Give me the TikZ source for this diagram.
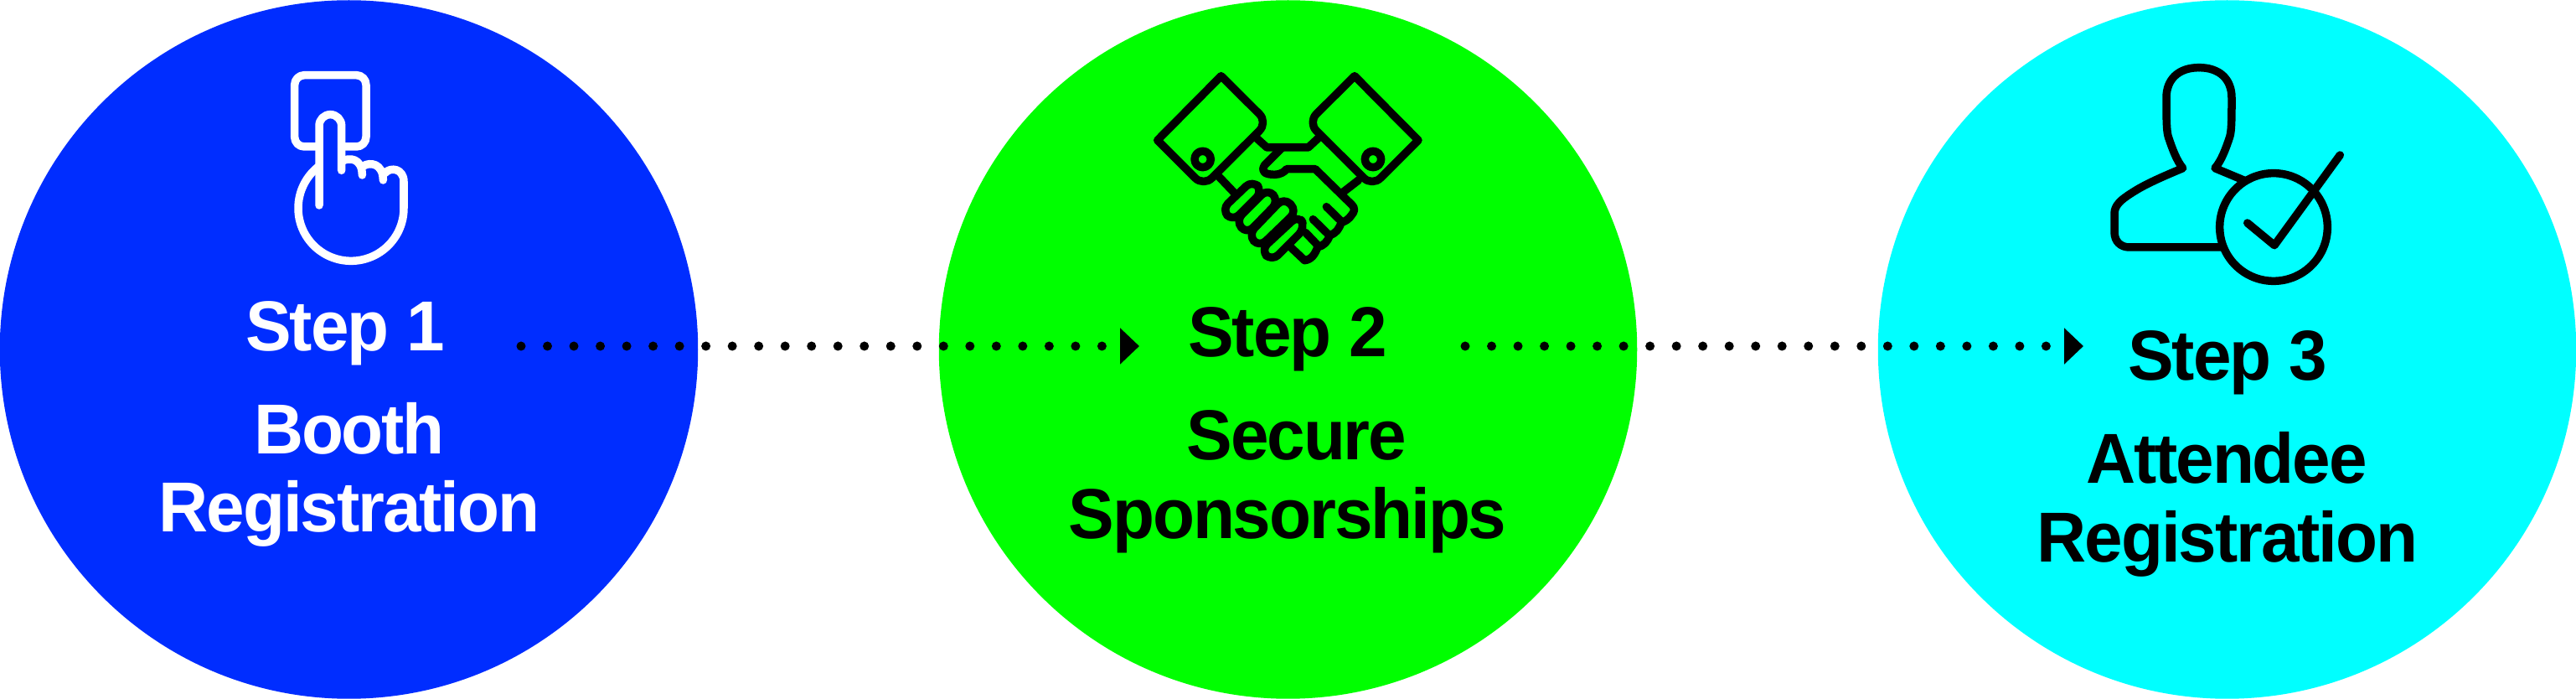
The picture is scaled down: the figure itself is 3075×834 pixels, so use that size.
\documentclass[tikz,border=0pt]{standalone}
\usepackage{fontspec}
\setmainfont{Liberation Sans}[FakeStretch=0.97, LetterSpace=-2.5]
\usetikzlibrary{arrows.meta}

\definecolor{stepblue}{RGB}{0,45,255}
\definecolor{stepgreen}{RGB}{0,255,0}
\definecolor{stepcyan}{RGB}{0,255,255}

\tikzset{
    stepdisc/.style = {circle, minimum size = 8.33cm, inner sep = 0pt, outer sep = 0pt},
    steptext/.style = {anchor = base, inner sep = 0pt, font = \fontsize{24}{26}\selectfont\bfseries},
    dotline/.style = {line width = 0.11cm, line cap = round, dash pattern = on 0pt off 0.315cm,
        -{Triangle[length = 0.23cm, width = 0.42cm]}},
    iconline/.style = {line width = 0.095cm, line cap = round, line join = round}
}

\begin{document}
\begin{tikzpicture}[x = 0.01cm, y = -0.01cm]
    \useasboundingbox (0,0) rectangle (3075,834);

    \node [stepdisc, fill = stepblue] (disc1) at (416.5,417) {};
    \node [stepdisc, fill = stepgreen] (disc2) at (1537.5,417) {};
    \node [stepdisc, fill = stepcyan] (disc3) at (2658.5,417) {};

    \coordinate (dots1) at (622,413);
    \coordinate (tip1) at (1360,413);
    \coordinate (dots2) at (1749,413);
    \coordinate (tip2) at (2487,413);
    \draw [dotline] (dots1) -- (tip1);
    \draw [dotline] (dots2) -- (tip2);

    \node [steptext, text = white] (step1) at (412,419) {Step 1};
    \node [steptext, text = white] (booth) at (417,542) {Booth};
    \node [steptext, text = white] (registration1) at (417,635) {Registration};

    \node [steptext] (step2) at (1537,426) {Step 2};
    \node [steptext] (secure) at (1548,549) {Secure};
    \node [steptext] (sponsorships) at (1537,643) {Sponsorships};

    \node [steptext] (step3) at (2659,454) {Step 3};
    \node [steptext] (attendee) at (2658,577) {Attendee};
    \node [steptext] (registration3) at (2659,671) {Registration};

    % pointing hand
    \begin{scope}[shift = {(300,60)}, scale = 1/3, iconline, white]
        \draw (243,345) [rounded corners = 3.3pt] -- (155,345) -- (155,89) -- (411,89) -- (411,345) -- (323,345);
        \draw (243,555) -- (243,270) arc (180:360:40) -- (323,430);
        \draw (323,398) .. controls (350,382) and (397,385) .. (397,447);
        \draw (400,415) .. controls (425,398) and (472,405) .. (472,465);
        \draw (478,440) .. controls (500,415) and (546,425) .. (546,470) -- (546,565) arc (0:233:189);
    \end{scope}

    % handshake
    \begin{scope}[shift = {(1350,60)}, scale = 1/3, iconline, black]
        \draw (323,92) -- (95,322) [rounded corners = 4pt] -- (260,487) -- (490,258) [sharp corners] -- cycle;
        \draw (801,92) -- (1029,322) [rounded corners = 4pt] -- (864,487) -- (634,258) [sharp corners] -- cycle;
        \draw (257,390) circle [radius = 29];
        \draw (867,390) circle [radius = 29];
        \draw (445,310) -- (487,348) -- (635,348) -- (678,308);
        \draw (310,447) -- (370,510);
        \draw (815,465) -- (757,510);
        \draw (540,350) -- (478,412) .. controls (465,435) and (480,445) .. (515,445) .. controls (535,445) and (550,435) .. (558,425) -- (660,425) -- (790,552) .. controls (805,567) and (800,578) .. (790,590) .. controls (780,605) and (768,612) .. (753,617);
        \draw (700,560) -- (753,612);
        \draw (753,617) .. controls (745,640) and (735,655) .. (712,662);
        \draw (652,605) -- (708,660);
        \draw (712,662) .. controls (705,685) and (690,700) .. (668,705);
        \draw (625,652) -- (668,697);
        \draw (668,705) .. controls (660,730) and (645,750) .. (622,752) -- (570,703);
        \begin{scope}[rounded corners = 3pt]
            \draw (435,465) -- (325,570) -- (365,612) -- (472,505) -- cycle;
            \draw (490,495) -- (375,610) -- (415,658) -- (530,540) -- cycle;
            \draw (548,527) -- (420,660) -- (460,705) -- (595,575) -- cycle;
            \draw (600,590) -- (465,715) -- (505,755) -- (625,635) -- cycle;
        \end{scope}
    \end{scope}

    % person with tick
    \begin{scope}[shift = {(2490,60)}, scale = 1/3, iconline, black]
        \draw (405,62) .. controls (330,62) and (288,105) .. (288,170) .. controls (288,230) and (288,290) .. (295,310) .. controls (310,355) and (325,395) .. (347,422) .. controls (280,450) and (210,480) .. (165,510) .. controls (125,535) and (102,555) .. (102,585) -- (102,650) .. controls (102,685) and (125,705) .. (155,705) -- (482,705);
        \draw (405,62) .. controls (480,62) and (522,105) .. (522,170) .. controls (522,230) and (522,290) .. (515,310) .. controls (500,355) and (485,395) .. (462,422) -- (565,465);
        \draw (672,633) circle [radius = 193];
        \draw (578,618) -- (675,698) -- (910,375);
    \end{scope}
\end{tikzpicture}
\end{document}
